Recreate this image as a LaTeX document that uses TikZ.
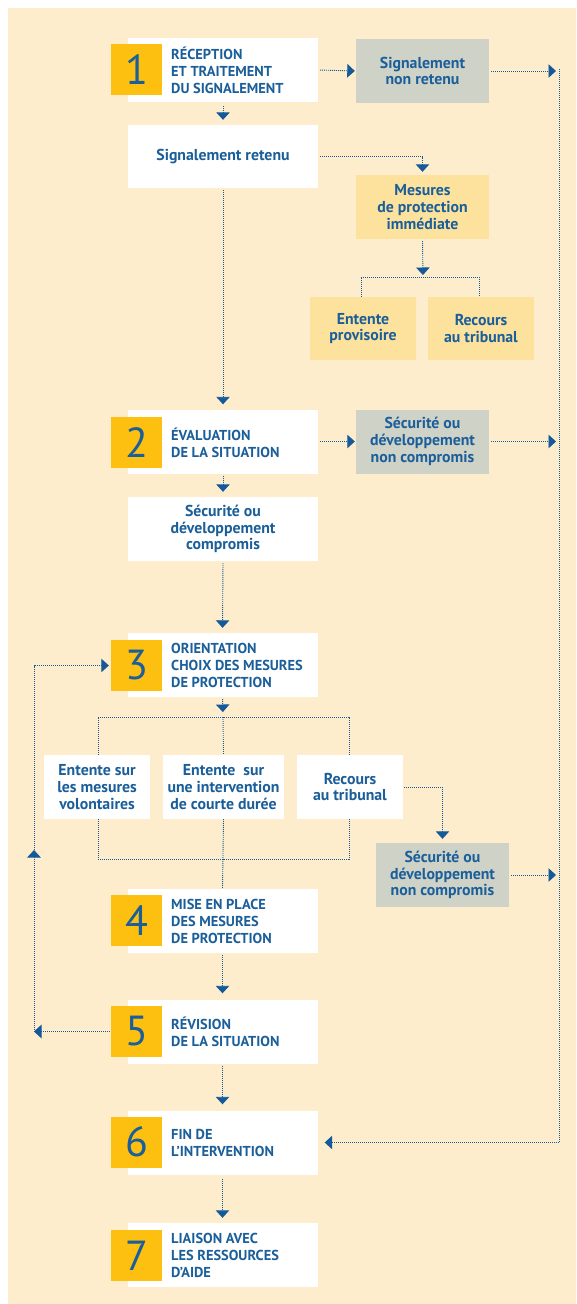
\documentclass[tikz,border=0pt]{standalone}
\usepackage{fontspec}
\setmainfont{PT Sans}
\usetikzlibrary{arrows.meta}
\definecolor{bg}{HTML}{FDEDCD}
\definecolor{numy}{HTML}{FDC010}
\definecolor{lighty}{HTML}{FCE29C}
\definecolor{greyb}{HTML}{CFD2C7}
\definecolor{txt}{HTML}{1A5E9A}
\definecolor{arr}{HTML}{14599A}
\tikzset{
  stepbox/.style={fill=white, minimum width=190pt, minimum height=64pt, inner sep=0pt},
  numbox/.style={fill=numy, minimum size=51pt, inner sep=0pt, text=txt, font=\fontsize{42}{42}\selectfont},
  head/.style={anchor=west, align=left, inner sep=0pt, text=txt, font=\bfseries\fontsize{14.4}{17}\selectfont},
  lab/.style={align=center, inner sep=0pt, text=txt, font=\bfseries\fontsize{15.8}{16.8}\selectfont},
  greybox/.style={lab, fill=greyb, minimum width=133pt, minimum height=64pt},
  ybox/.style={lab, fill=lighty},
  wbox/.style={lab, fill=white},
  conn/.style={draw=arr, line width=0.9pt, dash pattern=on 0.9pt off 1.1pt},
  tip/.style={-{Triangle[length=7.5pt,width=13.5pt]}, arr},
}
\begin{document}
\begin{tikzpicture}[x=1pt,y=-1pt]
\useasboundingbox (0,0) rectangle (576,1304);
\fill[bg] (8,8) rectangle (576,1304);

% step 1
\node[stepbox] (s1) at (223,70) {};
\node[numbox] (n1) at (136.5,69.5) {1};
\node[head] (t1) at (171,70) {RÉCEPTION\\ET TRAITEMENT\\DU SIGNALEMENT};
\node[greybox] (g1) at (422.5,71) {Signalement\\non retenu};
\node[wbox, minimum width=190pt, minimum height=63pt] (r1) at (223,156.5) {Signalement retenu};
\node[ybox, minimum width=133pt, minimum height=64pt] (m1) at (422.5,207) {Mesures\\de protection\\immédiate};
\node[ybox, minimum width=106pt, minimum height=63pt] (ep) at (363,328.5) {Entente\\provisoire};
\node[ybox, minimum width=106pt, minimum height=63pt] (rt) at (481,328.5) {Recours\\au tribunal};

% step 2
\node[stepbox] (s2) at (223,441.5) {};
\node[numbox] (n2) at (136.5,442.5) {2};
\node[head] (t2) at (171,442.5) {ÉVALUATION\\DE LA SITUATION};
\node[greybox] (g2) at (422.5,441.5) {Sécurité ou\\développement\\non compromis};
\node[wbox, minimum width=190pt, minimum height=64pt] (sc) at (223,529) {Sécurité ou\\développement\\compromis};

% step 3
\node[stepbox] (s3) at (222.5,665) {};
\node[numbox] (n3) at (136.5,665.5) {3};
\node[head] (t3) at (171,665) {ORIENTATION\\CHOIX DES MESURES\\DE PROTECTION};
\node[wbox, minimum width=106pt, minimum height=64pt] (e1) at (97,787) {Entente sur\\les mesures\\volontaires};
\node[wbox, minimum width=121pt, minimum height=64pt] (e2) at (223.5,787) {Entente\ \ sur\\une intervention\\de courte durée};
\node[wbox, minimum width=106pt, minimum height=64pt] (e3) at (350,787) {Recours\\au tribunal};
\node[greybox] (g3) at (442.5,875) {Sécurité ou\\développement\\non compromis};

% step 4-7
\node[stepbox] (s4) at (222.5,921) {};
\node[numbox] (n4) at (136.5,920.5) {4};
\node[head] (t4) at (171,921) {MISE EN PLACE\\DES MESURES\\DE PROTECTION};
\node[stepbox] (s5) at (222.5,1031.5) {};
\node[numbox] (n5) at (136.5,1031.5) {5};
\node[head] (t5) at (171,1031.5) {RÉVISION\\DE LA SITUATION};
\node[stepbox] (s6) at (222.5,1142.5) {};
\node[numbox] (n6) at (136.5,1142) {6};
\node[head] (t6) at (171,1142.5) {FIN DE\\L’INTERVENTION};
\node[stepbox] (s7) at (222.5,1255) {};
\node[numbox] (n7) at (136.5,1255.5) {7};
\node[head] (t7) at (171,1255) {LIAISON AVEC\\LES RESSOURCES\\D’AIDE};

% coordinates
\coordinate (rA) at (559,71);
\coordinate (rB) at (559,441.5);
\coordinate (rC) at (559,875);
\coordinate (rTop) at (559,69);
\coordinate (rBot) at (559,1142.5);
\coordinate (bm) at (423,277);
\coordinate (b3) at (223,717);
\coordinate (b3b) at (223,859);
\coordinate (lb) at (34,1031.5);
\coordinate (lu) at (34,850);

% right side
\draw[conn, tip, shorten <=2pt, shorten >=1pt] (s1.east) -- (g1.west);
\draw[conn, tip, shorten <=2pt, shorten >=3pt] (g1.east) -- (rA);
\draw[conn, tip, shorten <=2pt, shorten >=1pt] (s2.east) -- (g2.west);
\draw[conn, tip, shorten <=2pt, shorten >=3pt] (g2.east) -- (rB);
\draw[conn, tip, shorten <=2pt, shorten >=3pt] (g3.east) -- (rC);
\draw[conn, tip, shorten >=7pt] (rTop) -- (rBot) -- (s6.east);

% step 1 area
\draw[conn, tip, shorten <=4pt, shorten >=5pt] (s1.south) -- (r1.north);
\draw[conn, tip, shorten <=2pt, shorten >=3pt] (r1.east) -| (m1.north);
\draw[conn, tip, shorten <=2pt, shorten >=2pt] (m1.south) -- (bm);
\draw[conn] ([xshift=-2pt]ep.north) |- (bm) -| ([xshift=-2pt]rt.north);
\draw[conn, tip, shorten <=2pt, shorten >=5pt] (r1.south) -- (s2.north);

% step 2 area
\draw[conn, tip, shorten <=2pt, shorten >=5pt] (s2.south) -- (sc.north);
\draw[conn, tip, shorten <=2pt, shorten >=5pt] (sc.south) -- (s3.north);

% step 3 area
\draw[conn, tip, shorten <=2pt, shorten >=5pt] (s3.south) -- (b3);
\draw[conn] ([xshift=1pt]e1.north) |- (b3) -| ([xshift=-1pt]e3.north);
\draw[conn] (b3) -- (e2.north);
\draw[conn] ([xshift=1pt]e1.south) |- (b3b) -| ([xshift=-1pt]e3.south);
\draw[conn] (e2.south) -- (s4.north);
\draw[conn, tip, shorten <=1pt, shorten >=4pt] (e3.east) -| (g3.north);

% steps 4-7
\draw[conn, tip, shorten <=2pt, shorten >=6pt] (s4.south) -- (s5.north);
\draw[conn, tip, shorten <=2pt, shorten >=6pt] (s5.south) -- (s6.north);
\draw[conn, tip, shorten <=4pt, shorten >=5pt] (s6.south) -- (s7.north);

% loop back
\draw[conn, tip, shorten <=1pt] (n5.west) -- (lb);
\draw[conn, tip] (lb) -- (lu);
\draw[conn, tip, shorten >=2pt] (lu) |- (n3.west);
\end{tikzpicture}
\end{document}
